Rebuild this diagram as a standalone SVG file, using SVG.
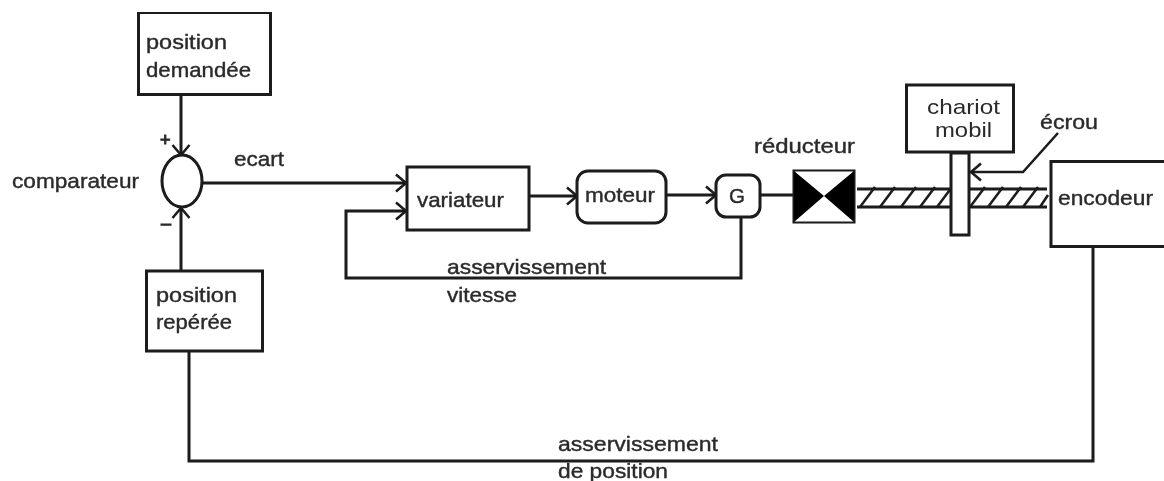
<svg xmlns="http://www.w3.org/2000/svg" width="1164" height="481" viewBox="0 0 1164 481">
<defs>
<style>
text{font-family:"Liberation Sans",Arial,sans-serif;font-size:21px;fill:#2a2a2a;stroke:#2a2a2a;stroke-width:.4}
.thin{stroke-width:0}
.b{fill:#fff;stroke:#1a1a1a;stroke-width:3}
.l{fill:none;stroke:#1a1a1a;stroke-width:3}
.h{fill:none;stroke:#1a1a1a;stroke-width:2.500}
</style>
<filter id="soft" x="0" y="0" width="100%" height="100%"><feGaussianBlur stdDeviation="0.6"/></filter>
<marker id="a" markerUnits="userSpaceOnUse" markerWidth="14" markerHeight="22" refX="12" refY="11" orient="auto"><path d="M2 2.500L12 11L2 19.500" fill="none" stroke="#1a1a1a" stroke-width="2.500"/></marker>
</defs>
<rect width="1164" height="481" fill="#fff"/>
<g filter="url(#soft)">
<g id="connectors">
<path class="l" d="M181 94V155" marker-end="url(#a)"/>
<path class="l" d="M181 271V208" marker-end="url(#a)"/>
<path class="l" d="M203 183H406" marker-end="url(#a)"/>
<path class="l" d="M741 216V278H346V211H406" marker-end="url(#a)"/>
<path class="l" d="M529 196H577" marker-end="url(#a)"/>
<path class="l" d="M666 195H716" marker-end="url(#a)"/>
<path class="l" d="M760 195H794"/>
<path class="l" d="M1093 246V461H189V351"/>
<path class="h" d="M1058 133L1023 172H971" marker-end="url(#a)"/>
</g>
<g id="screw">
<path class="l" d="M857 189H1047M857 207H1047"/>
<path class="h" d="M860 207L875 187M880 207L895 187M901 207L916 187M920 207L935 187M937 207L952 187M970 207L985 187M988 207L1003 187M1006 207L1021 187M1023 207L1038 187M1040 207L1048 195"/>
</g>
<g id="position-demandee"><rect class="b" x="138.500" y="12.500" width="132" height="82"/><text x="146" y="49" textLength="81" lengthAdjust="spacingAndGlyphs">position</text><text x="146" y="77" textLength="105" lengthAdjust="spacingAndGlyphs">demandée</text></g>
<g id="comparateur"><ellipse class="b" cx="182" cy="181" rx="20" ry="26"/><text x="12" y="188" textLength="127" lengthAdjust="spacingAndGlyphs">comparateur</text><text x="160" y="146" style="font-size:18px;stroke-width:1">+</text><text x="161" y="229" style="font-size:18px;stroke-width:1">–</text></g>
<g id="position-reperee"><rect class="b" x="146.500" y="271" width="116" height="80"/><text x="156" y="302" textLength="81" lengthAdjust="spacingAndGlyphs">position</text><text x="156" y="329" textLength="76" lengthAdjust="spacingAndGlyphs">repérée</text></g>
<g id="variateur"><rect class="b" x="407" y="167" width="122" height="63"/><text x="417" y="207" textLength="87" lengthAdjust="spacingAndGlyphs">variateur</text></g>
<g id="moteur"><rect class="b" x="577" y="171" width="89" height="52" rx="11"/><text x="585" y="202" textLength="70" lengthAdjust="spacingAndGlyphs">moteur</text></g>
<g id="G"><rect class="b" x="716" y="175" width="44" height="42" rx="10"/><text x="729" y="203" textLength="16" lengthAdjust="spacingAndGlyphs">G</text></g>
<g id="reducteur"><rect x="793.500" y="170.500" width="61" height="52" fill="#fff" stroke="#1a1a1a" stroke-width="2"/><path d="M794 171L824 196L794 222ZM854 171L824 196L854 222Z" fill="#000"/><text x="754" y="153" textLength="101" lengthAdjust="spacingAndGlyphs">réducteur</text></g>
<g id="chariot"><rect class="b" x="906.500" y="85" width="107" height="67"/><rect class="b" x="951" y="153" width="18" height="82"/><text class="thin" x="927" y="114" textLength="73" lengthAdjust="spacingAndGlyphs">chariot</text><text class="thin" x="935" y="137" textLength="57" lengthAdjust="spacingAndGlyphs">mobil</text></g>
<g id="ecrou"><text x="1040" y="129" textLength="58" lengthAdjust="spacingAndGlyphs">écrou</text></g>
<g id="encodeur"><rect class="b" x="1051" y="161.500" width="116" height="85"/><text x="1058" y="205" textLength="95" lengthAdjust="spacingAndGlyphs">encodeur</text></g>
<g id="labels">
<text x="234" y="166" textLength="50" lengthAdjust="spacingAndGlyphs">ecart</text>
<text x="447" y="274" textLength="159" lengthAdjust="spacingAndGlyphs">asservissement</text>
<text x="447" y="302" textLength="70" lengthAdjust="spacingAndGlyphs">vitesse</text>
<text x="558" y="451" textLength="160" lengthAdjust="spacingAndGlyphs">asservissement</text>
<text x="558" y="478" textLength="110" lengthAdjust="spacingAndGlyphs">de position</text>
</g>
</g>
</svg>
